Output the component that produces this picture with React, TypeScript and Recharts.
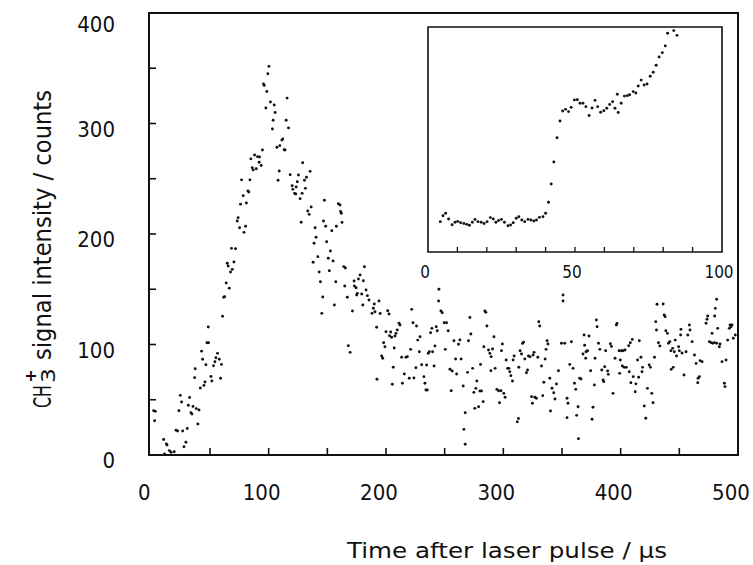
import React from 'react';
import { ScatterChart, Scatter, XAxis, YAxis, ReferenceArea } from 'recharts';

// ---- main trace: time after laser pulse (µs) and CH3+ counts ----
const mainTime = [
  2.0, 2.8, 3.4, 10.5, 11.3, 12.8, 13.4, 15.3, 16.8, 19.5, 21.0, 22.4, 23.5, 24.7, 25.8, 26.7, 27.8, 29.5, 30.6, 31.5,
  32.6, 33.8, 34.6, 35.5, 36.9, 37.4, 38.3, 39.7, 40.6, 41.7, 42.8, 43.7, 44.8, 45.7, 46.5, 47.4, 48.5, 48.8, 50.8, 51.6,
  53.0, 54.2, 55.0, 56.4, 57.9, 59.0, 59.8, 60.7, 61.7, 62.5, 63.8, 64.7, 65.5, 66.4, 67.5, 68.3, 69.0, 70.4, 71.7, 73.2,
  74.0, 75.2, 76.0, 76.9, 78.3, 79.0, 80.3, 81.0, 82.3, 83.1, 84.0, 84.8, 86.0, 86.8, 88.0, 89.4, 90.5, 91.9, 92.2, 93.6,
  94.7, 95.6, 96.2, 97.6, 98.4, 99.3, 100.2, 101.5, 103.2, 103.8, 104.7, 105.5, 107.0, 108.0, 109.0, 109.5, 111.2, 112.0, 113.2, 114.0,
  114.9, 115.7, 116.9, 118.3, 120.0, 120.6, 122.0, 123.1, 123.4, 124.4, 125.4, 126.8, 127.7, 128.5, 129.0, 130.5, 131.3, 132.2, 133.3, 134.5,
  135.3, 136.2, 137.9, 138.7, 139.6, 140.4, 141.9, 143.0, 144.1, 145.3, 146.1, 146.7, 147.5, 148.6, 149.4, 150.8, 151.7, 152.6, 153.8, 154.9,
  156.0, 157.2, 157.7, 159.4, 160.8, 161.3, 161.9, 162.5, 164.0, 165.4,
  164.8, 167.0, 167.9, 169.4, 171.4, 172.8, 173.0, 174.5, 175.0, 175.6, 176.5, 177.9, 179.3, 180.2, 180.7, 181.6, 183.0, 184.1, 185.5, 188.1,
  189.2, 190.0, 190.6, 192.0, 192.3, 194.0, 195.0, 196.3, 197.2, 198.0, 199.1, 200.0, 201.4, 202.6, 203.0, 204.0, 204.8, 205.4, 206.2, 207.0,
  207.7, 208.5, 209.6, 211.1, 211.9, 213.3, 214.0, 215.6, 217.0, 218.2, 219.8, 221.0, 221.9, 223.0, 223.8, 225.5, 226.0, 227.0, 228.4, 229.0,
  230.4, 232.3, 233.2, 234.0, 234.6, 235.2, 236.0, 236.9, 238.0, 239.1, 239.7, 241.0, 241.7, 242.8, 243.7, 244.8, 245.1, 246.8, 247.9, 249.6,
  250.5, 251.6, 253.0, 254.5, 255.6, 256.4, 257.9, 259.3, 260.2, 261.8, 263.0, 264.0, 265.8, 266.4, 267.5, 267.5, 269.5, 270.3, 271.5, 272.3,
  273.8, 274.9, 275.7, 276.6, 277.4, 278.9, 280.0, 280.6, 281.4, 282.8, 283.4, 284.3, 285.1, 286.0, 287.4, 288.5, 289.4, 289.6, 290.8, 292.0,
  293.0, 294.5, 295.9, 296.7, 298.0, 298.4, 299.2, 300.4, 301.5, 302.4, 303.6, 304.7, 305.5, 306.4, 307.8, 308.3, 309.2, 311.9, 312.9, 313.2,
  314.3, 315.5, 316.3, 317.2, 318.3, 319.7, 320.6, 321.4, 322.8, 324.0, 324.8, 325.4, 326.2, 326.8, 328.2, 329.4, 330.2, 331.0, 332.5, 333.6,
  334.5, 335.6, 336.4, 337.3, 338.0, 339.6, 340.2, 341.5, 343.0, 344.0, 345.3, 347.0,
  349.5, 350.9, 350.9, 352.3, 354.3, 355.1, 354.3, 356.6, 358.0, 359.4, 360.6, 361.7, 362.5, 363.7, 364.0, 365.1, 366.2, 367.9, 368.8, 369.3,
  370.2, 370.5, 371.7, 373.0, 374.4, 375.6, 376.4, 377.6, 378.2, 379.3, 379.9, 381.1, 382.2, 383.9, 385.0, 385.6, 386.4, 387.2, 388.9, 389.5,
  391.2, 392.1, 393.5, 395.2, 396.3, 396.9, 398.6, 399.1, 399.7, 400.6, 401.4, 402.0, 403.1, 403.7, 404.8, 406.8, 407.3, 408.2, 408.7, 409.9,
  410.7, 412.4, 413.0, 414.4, 415.3, 415.9, 417.3, 418.2, 418.7, 420.1, 421.4, 422.8, 424.3, 425.4, 426.5, 427.6, 428.8, 429.9, 430.5, 431.0,
  432.2, 433.4, 436.2, 437.1, 437.9, 438.5, 439.9, 440.8, 441.9, 442.8, 443.1, 444.3, 444.8, 445.7, 446.5, 447.6, 449.4, 450.0, 451.1, 451.4,
  452.3, 454.0, 455.7, 457.2, 458.6, 459.1, 460.9, 462.9, 464.3, 465.7, 466.0, 467.1, 467.7, 469.4, 472.8, 473.6, 474.2, 475.6, 477.0, 477.9,
  478.4, 479.9, 480.1, 480.7, 481.8, 481.8, 482.7, 484.1, 484.7, 486.4, 488.4, 488.9, 489.8, 491.2, 492.6, 493.2, 494.0, 494.9, 496.0, 497.7,
];

const mainCounts = [
  40, 31, 39.5, 14, 1, 10, 9, 4, 2.5, 3, 22.5, 21.7, 40, 54, 48, 21.7, 7.5, 11.5, 24, 45,
  52, 38.3, 37, 44, 70, 78, 42, 28, 40.7, 60.6, 94, 86.6, 63, 66, 81.7, 101.6, 115.8, 101.6, 71, 67,
  80.8, 84.4, 88, 92, 86.6, 69.4, 82, 125.5, 142.7, 143.3, 155.6, 173.5, 171, 151, 165.6, 187, 168, 174.7, 186.7, 211.8,
  214.8, 205.7, 227, 249, 234.7, 201.5, 207, 228, 239, 238, 249, 268, 260, 258, 271.5, 259, 270, 265, 269.7, 262,
  276, 335.7, 334.5, 314, 329, 345, 351.7, 319.5, 295, 303, 316.7, 310, 278.5, 248.6, 257, 280, 285, 286, 276.3, 276,
  303, 323, 296, 253.7, 243.7, 240.4, 236.8, 236.2, 242.5, 247.3, 253.4, 232, 210.6, 236.8, 264.5, 248.6, 241.3, 251.3, 220.8, 217.8,
  256.7, 224.4, 174.4, 191.6, 205.7, 197, 179.5, 165.6, 156.8, 128.2, 143, 211.8, 230.5, 207, 193, 178, 166.8, 184.6, 203, 175.6,
  135.7, 156.8, 207, 227.4, 226.3, 220.3, 218.8, 210.5, 170.5, 169.2,
  153, 142.7, 98.9, 92.9, 130.3, 157.5, 153, 151.4, 144.8, 146.3, 159.3, 162.9, 145.7, 135.7, 157.7, 170.4, 149.3, 144.2, 140.3, 128.2,
  132.8, 136.7, 129.7, 115.6, 68.5, 139.4, 128, 89.6, 87.5, 101.6, 98, 111.6, 130.6, 127.6, 108, 111.3, 106.5, 64, 79.4, 96.8,
  107.7, 110.1, 113.1, 119.2, 117.6, 88.4, 64.9, 73.3, 88.4, 89, 69.4, 95.6, 131.8, 119.7, 69.7, 79, 116.7, 104, 93.5, 107,
  81.7, 70.9, 64.9, 58.8, 81.4, 58.8, 92, 93.5, 110.7, 114.6, 93.5, 80.5, 98.6, 116.1, 112.5, 139.4, 150, 130.3, 128.8, 119.7,
  95.6, 119.7, 112.5, 77.6, 58.2, 76, 103.4, 86.9, 73.3, 100.2, 104.1, 86.9, 62.4, 23.2, 38.3, 9.7, 74.8, 103.4, 124.5, 109.5,
  78.4, 56.7, 42.2, 60.3, 67, 43.7, 57.9, 82, 57.9, 48.3, 98, 130.3, 129.1, 116.7, 95, 92, 76.3, 89, 95.9, 107,
  78.4, 59.4, 58.2, 47.3, 58.2, 94.4, 100.4, 55.8, 52.2, 86, 78.4, 78.4, 75.4, 71.8, 67, 86, 89.6, 30, 33, 79.4,
  94.4, 91.4, 101, 102, 86.9, 74.5, 76.9, 89.6, 89, 52.8, 46.8, 90.5, 92.9, 52.2, 51.3, 88.4, 120.6, 116.7, 80.5, 53.7,
  65.8, 86.9, 95.6, 103.4, 100.5, 69.4, 39.8, 60.4, 56.4, 50.7, 64.3, 76.3,
  101.1, 144.8, 139.4, 101.1, 51.3, 46.8, 33.8, 82, 102.5, 78.4, 64.9, 59.4, 35.9, 43.7, 14.8, 69.4, 68.8, 91.4, 108.6, 99.3,
  87.5, 93.5, 94.4, 107.7, 76.3, 32.3, 43.2, 63.3, 87.5, 122.2, 116.1, 101.1, 95.6, 76.9, 67.9, 66.4, 79.9, 94.4, 76, 73,
  100.7, 98.3, 55.8, 87.5, 117.6, 119.1, 94.4, 73.9, 86, 94.4, 80.5, 94.4, 79.3, 95, 79.3, 98.9, 75.4, 101.6, 65.4, 104.6,
  70.9, 57.3, 64.4, 86, 70.3, 103.4, 88.4, 75.4, 79.3, 44.3, 33.2, 60.3, 81.4, 79.3, 55.8, 47.3, 88.4, 120.7, 113.1, 136.4,
  101.6, 98.7, 136.7, 126.7, 125.2, 112.5, 110.1, 101.1, 102.6, 94.4, 77.5, 96.5, 79.3, 93.5, 104, 89.7, 98, 94.4, 108.6, 113.7,
  92.3, 72.4, 93.5, 108.6, 117.6, 113.1, 102.6, 90.5, 82.9, 65.4, 69.4, 70.9, 85.4, 84.5, 119.2, 122.8, 125.8, 102.6, 101.7, 110.1,
  101.1, 101.7, 125.8, 132.7, 140.9, 101.1, 114.6, 98, 100.4, 84.5, 64.9, 61.9, 86, 104, 114.6, 117.6, 116.1, 117.6, 105.6, 108.6,
];

// ---- inset: first 100 µs, signal in arbitrary units ----
const insetTime = [
  4.2, 5.1, 6.0, 7.0, 8.2, 9.2, 10.1, 11.1, 12.2, 13.2, 14.1, 15.1, 16.0, 17.0, 18.1, 19.1, 20.1, 21.2, 22.2, 23.1,
  24.0, 25.0, 26.0, 27.2, 28.1, 29.0, 30.0, 30.9, 31.9, 32.9, 34.0, 35.0, 36.0, 36.9, 37.9, 39.1, 40.0, 41.0, 41.9, 42.8,
  43.9, 44.9, 45.8, 46.8, 47.8, 48.7, 49.8, 50.8, 51.7, 52.7, 53.7, 54.8, 55.8, 56.8, 57.7, 58.7, 59.8, 60.8, 61.8, 62.8,
  63.6, 64.4, 64.7, 65.7, 66.8, 67.8, 68.6, 69.8, 70.7, 71.5, 72.5, 73.5, 74.5, 75.6, 76.6, 77.6, 78.6, 79.7, 80.7, 81.5,
  83.6, 84.7,
];
const insetSignal = [
  13.5, 16.1, 17.2, 14.7, 12.1, 13.2, 13.6, 13.0, 12.7, 12.3, 11.9, 13.2, 14.5, 13.5, 13.2, 12.7, 13.5, 15.3, 14.7, 13.2,
  14.0, 14.5, 13.2, 11.7, 12.0, 13.0, 15.0, 15.7, 14.2, 13.5, 14.5, 14.2, 13.8, 14.2, 15.4, 15.7, 17.2, 22.1, 30.2, 40.0,
  50.8, 58.2, 62.7, 63.4, 62.4, 64.3, 67.6, 67.7, 66.1, 66.1, 64.6, 60.7, 64.0, 67.4, 64.6, 62.1, 62.8, 63.9, 65.6, 66.8,
  63.9, 70.1, 62.0, 66.1, 69.3, 69.5, 69.9, 71.3, 70.7, 73.8, 76.4, 74.2, 74.7, 78.1, 79.9, 83.0, 86.7, 88.6, 91.6, 97.2,
  98.4, 96.3,
];

const mainXTicks = [0, 50, 100, 150, 200, 250, 300, 350, 400, 450, 500];
const mainYTicks = [0, 50, 100, 150, 200, 250, 300, 350, 400];
const insetXTicks = [0, 10, 20, 30, 40, 50, 60, 70, 80, 90, 100];
const mainXLabels = [0, 100, 200, 300, 400, 500];
const mainYLabels = [0, 100, 200, 300, 400];
const insetXLabels = [0, 50, 100];

const mainData = mainTime.map((t, i) => ({ t, c: mainCounts[i] }));
const insetData = insetTime.map((t, i) => ({ t, s: insetSignal[i] }));

const INK = '#111';
const NUM_FONT = "'DejaVu Sans Condensed', 'DejaVu Sans', sans-serif";
const TITLE_FONT = "'DejaVu Sans', sans-serif";

// main chart geometry (page coordinates; the chart sits at the page corner)
const W = 753;
const H = 565;
const PLOT_TOP = 13;
const PLOT_LEFT = 149;
const PLOT_RIGHT = 738;
const PLOT_BOTTOM = 455;

// inset geometry
const IN_LEFT = 428;
const IN_TOP = 27;
const IN_W = 294;
const IN_H = 225;
const IN_ML = 10;
const IN_MR = 20;
const IN_MT = 5;
const IN_XH = 45;

const Dot = (props: any) => <circle cx={props.cx} cy={props.cy} r={1.45} fill={INK} />;

const MainXTick = (props: any) => {
  const { x, payload } = props;
  const v = payload.value;
  return (
    <g>
      {v > 0 && v < 500 && (
        <line x1={x} x2={x} y1={PLOT_BOTTOM} y2={PLOT_BOTTOM - 7} stroke={INK} strokeWidth={1.6} />
      )}
      {mainXLabels.includes(v) && (
        <text x={x - 7} y={PLOT_BOTTOM + 45} textAnchor="middle" fontFamily={NUM_FONT} fontSize={22} fill={INK}>
          {v}
        </text>
      )}
    </g>
  );
};

const MainYTick = (props: any) => {
  const { y, payload } = props;
  const v = payload.value;
  return (
    <g>
      {v > 0 && v < 400 && (
        <line x1={PLOT_LEFT} x2={PLOT_LEFT + 7} y1={y} y2={y} stroke={INK} strokeWidth={1.6} />
      )}
      {mainYLabels.includes(v) && (
        <text
          x={PLOT_LEFT - 34}
          y={y + (v === 400 ? 19 : 13)}
          textAnchor="end"
          fontFamily={NUM_FONT}
          fontSize={22}
          fill={INK}
        >
          {v}
        </text>
      )}
    </g>
  );
};

const InsetXTick = (props: any) => {
  const { x, payload } = props;
  const v = payload.value;
  const base = IN_MT + IN_H;
  return (
    <g>
      {v > 0 && v < 100 && (
        <line x1={x} x2={x} y1={base} y2={base - 5} stroke={INK} strokeWidth={1.3} />
      )}
      {insetXLabels.includes(v) && (
        <text x={x - 3} y={base + 26} textAnchor="middle" fontFamily={NUM_FONT} fontSize={17} fill={INK}>
          {v}
        </text>
      )}
    </g>
  );
};

export default function App() {
  return (
    <div style={{ position: 'absolute', left: 0, top: 0, width: W, height: H, background: '#fff', overflow: 'hidden' }}>
      <ScatterChart
        width={W}
        height={H}
        margin={{ top: PLOT_TOP, right: W - PLOT_RIGHT, bottom: 0, left: 0 }}
      >
        <XAxis
          type="number"
          dataKey="t"
          domain={[-2, 500]}
          ticks={mainXTicks}
          interval={0}
          height={H - PLOT_BOTTOM}
          axisLine={false}
          tickLine={false}
          tick={<MainXTick />}
        />
        <YAxis
          type="number"
          dataKey="c"
          domain={[0, 400]}
          ticks={mainYTicks}
          interval={0}
          width={PLOT_LEFT}
          axisLine={false}
          tickLine={false}
          tick={<MainYTick />}
        />
        <ReferenceArea x1={-2} x2={500} y1={0} y2={400} fill="none" stroke={INK} strokeWidth={2} />
        <Scatter data={mainData} shape={Dot} isAnimationActive={false} />
      </ScatterChart>

      <div style={{ position: 'absolute', left: IN_LEFT - IN_ML, top: IN_TOP - IN_MT }}>
        <ScatterChart
          width={IN_ML + IN_W + IN_MR}
          height={IN_MT + IN_H + IN_XH}
          margin={{ top: IN_MT, right: IN_MR, bottom: 0, left: IN_ML }}
        >
          <XAxis
            type="number"
            dataKey="t"
            domain={[0, 100]}
            ticks={insetXTicks}
            interval={0}
            height={IN_XH}
            axisLine={false}
            tickLine={false}
            tick={<InsetXTick />}
          />
          <YAxis type="number" dataKey="s" domain={[0, 100]} hide />
          <ReferenceArea x1={0} x2={100} y1={0} y2={100} fill="#fff" fillOpacity={1} stroke={INK} strokeWidth={1.6} />
          <Scatter data={insetData} shape={Dot} isAnimationActive={false} />
        </ScatterChart>
      </div>

      <svg
        width={W}
        height={H}
        style={{ position: 'absolute', left: 0, top: 0, pointerEvents: 'none' }}
      >
        <text
          x={507}
          y={558}
          textAnchor="middle"
          fontFamily={TITLE_FONT}
          fontSize={21}
          fill={INK}
          textLength={320}
          lengthAdjust="spacingAndGlyphs"
        >
          Time after laser pulse / μs
        </text>
        <g transform="translate(51, 408) rotate(-90)">
          <text x={0} y={0} fontFamily={TITLE_FONT} fontSize={24} fill={INK} textLength={23} lengthAdjust="spacingAndGlyphs">
            CH
          </text>
          <text x={25} y={4} fontFamily={TITLE_FONT} fontSize={20} fill={INK} textLength={15} lengthAdjust="spacingAndGlyphs">
            3
          </text>
          <text x={32} y={-15} textAnchor="middle" fontFamily={TITLE_FONT} fontSize={16} fontWeight="bold" fill={INK}>
            +
          </text>
          <text x={48} y={0} fontFamily={TITLE_FONT} fontSize={24} fill={INK} textLength={270} lengthAdjust="spacingAndGlyphs">
            signal intensity / counts
          </text>
        </g>
      </svg>
    </div>
  );
}
